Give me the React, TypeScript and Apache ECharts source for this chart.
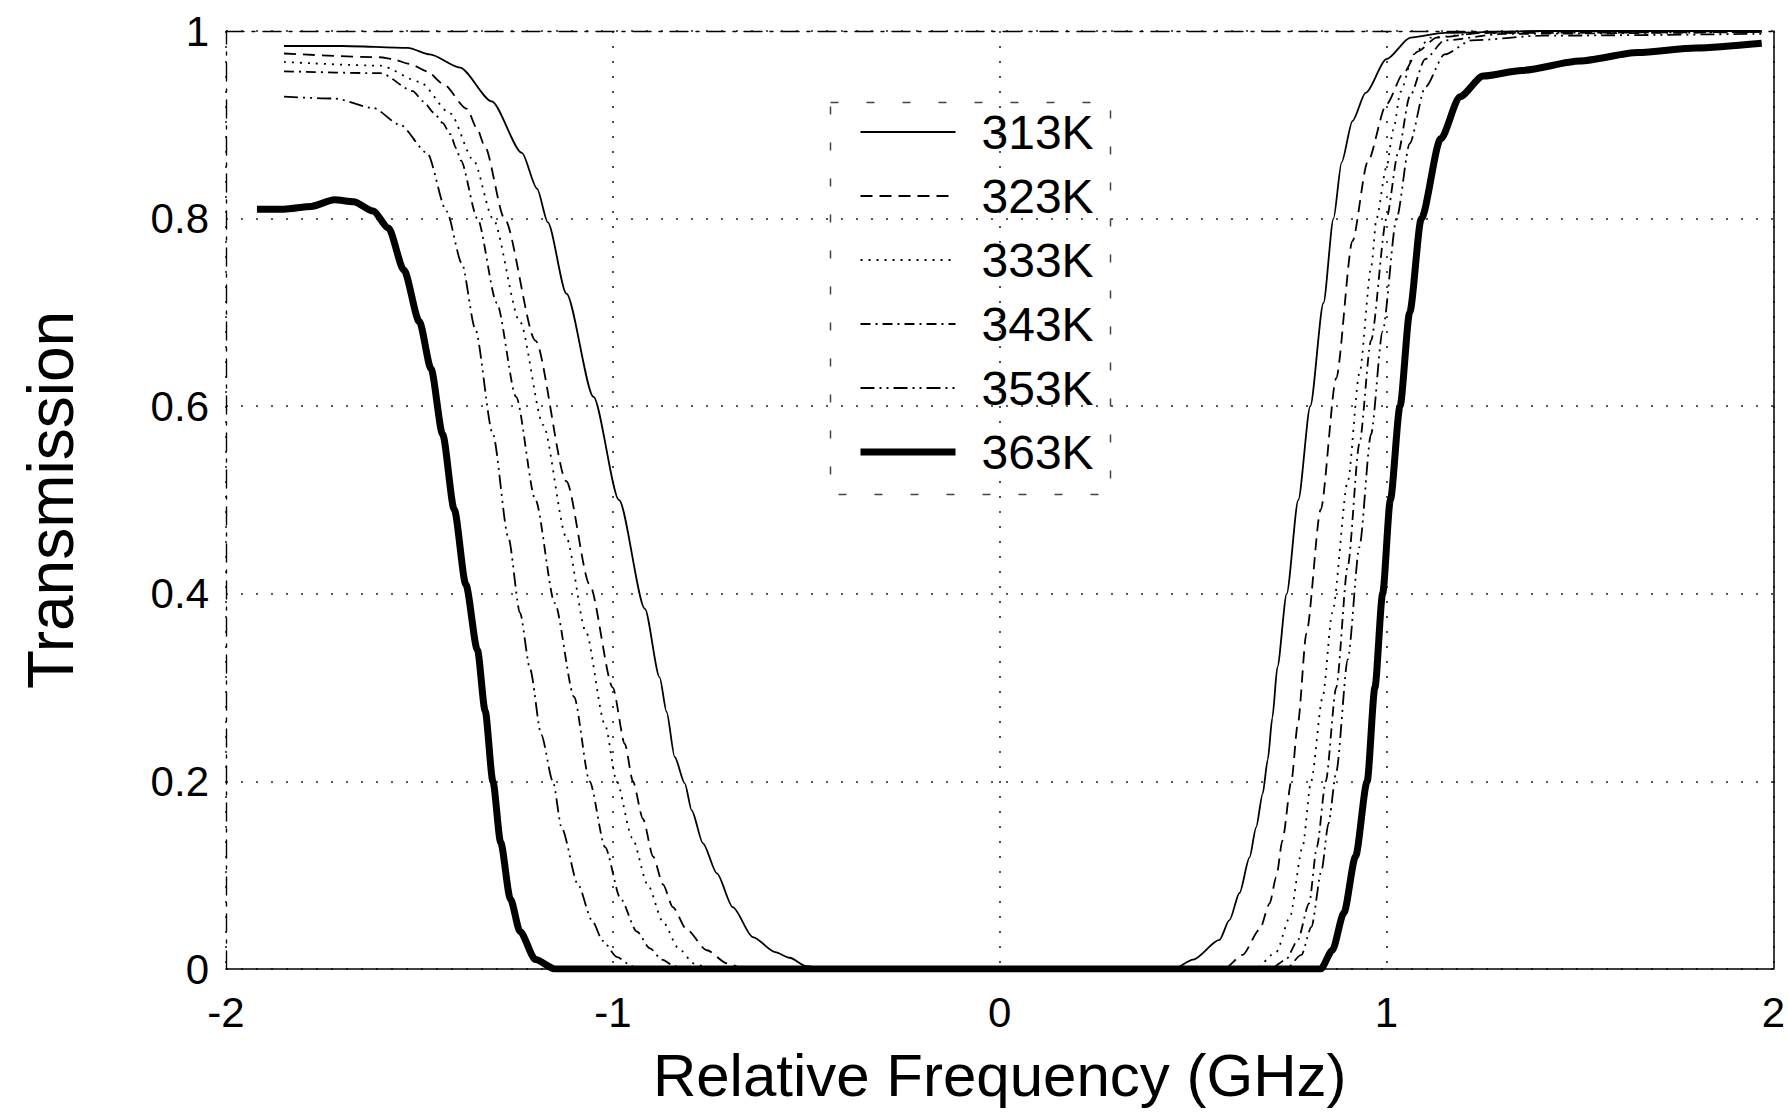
import React, { useEffect, useRef } from "react";
import * as echarts from "echarts";

type Pt = [number, number];

// Axis ranges and tick steps
const xRange: [number, number] = [-2, 2];
const yRange: [number, number] = [0, 1];
const xStep = 1;
const yStep = 0.2;

// Transmission vs. relative frequency (GHz), one list per cell temperature
const t313: Pt[] = [
  [-1.85, 0.984], [-1.7, 0.984], [-1.53, 0.982], [-1.473, 0.975], [-1.395, 0.961], [-1.313, 0.925],
  [-1.235, 0.87], [-1.196, 0.832], [-1.168, 0.796], [-1.12, 0.72], [-1.05, 0.61], [-0.984, 0.5],
  [-0.917, 0.384], [-0.879, 0.311], [-0.861, 0.274], [-0.84, 0.226], [-0.814, 0.198], [-0.796, 0.169],
  [-0.767, 0.134], [-0.731, 0.102], [-0.69, 0.066], [-0.638, 0.034], [-0.58, 0.018], [-0.543, 0.012],
  [-0.5, 0.003], [-0.45, 0], [0.45, 0], [0.5, 0.01], [0.568, 0.031], [0.594, 0.052], [0.62, 0.081],
  [0.646, 0.119], [0.663, 0.151], [0.68, 0.187], [0.693, 0.223], [0.705, 0.268], [0.718, 0.322],
  [0.742, 0.4], [0.772, 0.5], [0.803, 0.6], [0.837, 0.71], [0.863, 0.8], [0.884, 0.86], [0.912, 0.904],
  [0.946, 0.934], [1.0, 0.97], [1.062, 0.993], [1.15, 0.998], [1.4, 1.0], [1.97, 1.0],
];

const t323: Pt[] = [
  [-1.85, 0.976], [-1.6, 0.972], [-1.571, 0.97], [-1.525, 0.965], [-1.48, 0.957], [-1.44, 0.944],
  [-1.377, 0.917], [-1.351, 0.896], [-1.331, 0.877], [-1.28, 0.8], [-1.2, 0.67], [-1.12, 0.52],
  [-1.06, 0.41], [-1.0, 0.3], [-0.969, 0.24], [-0.948, 0.2], [-0.922, 0.16], [-0.896, 0.12],
  [-0.87, 0.09], [-0.845, 0.066], [-0.809, 0.042], [-0.757, 0.02], [-0.705, 0.006], [-0.66, 0],
  [0.58, 0], [0.628, 0.015], [0.672, 0.042], [0.698, 0.07], [0.715, 0.098], [0.731, 0.137],
  [0.754, 0.2], [0.771, 0.262], [0.793, 0.358], [0.83, 0.49], [0.87, 0.63], [0.912, 0.776],
  [0.951, 0.86], [1.0, 0.922], [1.044, 0.955], [1.08, 0.978], [1.13, 0.993], [1.25, 0.998], [1.97, 0.999],
];

const t333: Pt[] = [
  [-1.85, 0.967], [-1.6, 0.963], [-1.5, 0.946], [-1.42, 0.912], [-1.36, 0.862], [-1.31, 0.8],
  [-1.24, 0.69], [-1.18, 0.58], [-1.12, 0.46], [-1.07, 0.36], [-1.02, 0.26], [-0.99, 0.2],
  [-0.95, 0.14], [-0.91, 0.09], [-0.87, 0.05], [-0.83, 0.022], [-0.79, 0.006], [-0.75, 0],
  [0.66, 0], [0.715, 0.018], [0.75, 0.055], [0.783, 0.13], [0.805, 0.2], [0.835, 0.29], [0.86, 0.38],
  [0.9, 0.52], [0.93, 0.635], [0.961, 0.75], [0.974, 0.8], [1.0, 0.855], [1.018, 0.895], [1.036, 0.935],
  [1.07, 0.975], [1.114, 0.993], [1.25, 0.998], [1.97, 0.999],
];

const t343: Pt[] = [
  [-1.85, 0.957], [-1.6, 0.955], [-1.517, 0.936], [-1.49, 0.925], [-1.463, 0.913], [-1.44, 0.902],
  [-1.42, 0.89], [-1.405, 0.875], [-1.393, 0.862], [-1.35, 0.8], [-1.3, 0.71], [-1.25, 0.61],
  [-1.2, 0.5], [-1.15, 0.39], [-1.1, 0.29], [-1.06, 0.2], [-1.02, 0.13], [-0.98, 0.075],
  [-0.938, 0.04], [-0.904, 0.022], [-0.873, 0.01], [-0.84, 0.003], [-0.81, 0],
  [0.7, 0], [0.74, 0.01], [0.77, 0.03], [0.8, 0.07], [0.82, 0.13], [0.843, 0.2], [0.87, 0.3],
  [0.9, 0.43], [0.93, 0.56], [0.96, 0.67], [1.0, 0.8], [1.03, 0.87], [1.06, 0.93], [1.1, 0.97],
  [1.15, 0.99], [1.3, 0.997], [1.97, 0.999],
];

const t353: Pt[] = [
  [-1.85, 0.93], [-1.72, 0.928], [-1.62, 0.918], [-1.55, 0.9], [-1.48, 0.87], [-1.43, 0.808],
  [-1.39, 0.752], [-1.356, 0.683], [-1.31, 0.57], [-1.27, 0.46], [-1.24, 0.38], [-1.214, 0.32],
  [-1.185, 0.25], [-1.155, 0.2], [-1.132, 0.15], [-1.09, 0.09], [-1.054, 0.052], [-1.026, 0.03],
  [-0.99, 0.013], [-0.95, 0.003], [-0.92, 0],
  [0.74, 0], [0.78, 0.015], [0.806, 0.045], [0.832, 0.105], [0.85, 0.155], [0.87, 0.21], [0.9, 0.33],
  [0.93, 0.45], [0.96, 0.57], [0.99, 0.68], [1.026, 0.8], [1.06, 0.88], [1.1, 0.94], [1.15, 0.975],
  [1.22, 0.99], [1.4, 0.995], [1.97, 0.997],
];

const t363: Pt[] = [
  [-1.92, 0.81], [-1.85, 0.81], [-1.78, 0.813], [-1.72, 0.82], [-1.67, 0.818], [-1.62, 0.808],
  [-1.58, 0.79], [-1.54, 0.745], [-1.5, 0.69], [-1.47, 0.64], [-1.44, 0.57], [-1.41, 0.49],
  [-1.38, 0.41], [-1.35, 0.34], [-1.33, 0.275], [-1.31, 0.2], [-1.29, 0.135], [-1.265, 0.075],
  [-1.24, 0.04], [-1.2, 0.01], [-1.15, 0],
  [0.83, 0], [0.86, 0.02], [0.89, 0.06], [0.92, 0.12], [0.95, 0.2], [0.97, 0.3], [0.99, 0.4],
  [1.01, 0.5], [1.035, 0.6], [1.06, 0.7], [1.09, 0.8], [1.14, 0.885], [1.19, 0.93], [1.25, 0.952],
  [1.35, 0.958], [1.5, 0.968], [1.65, 0.977], [1.8, 0.982], [1.97, 0.987],
];

const temperatures = ["313K", "323K", "333K", "343K", "353K", "363K"];
const curves: Pt[][] = [t313, t323, t333, t343, t353, t363];

// Line appearance for each temperature
const strokeStyles: { width: number; type: any }[] = [
  { width: 1.8, type: "solid" },
  { width: 1.8, type: [12, 7] },
  { width: 1.8, type: [2, 6] },
  { width: 1.8, type: [10, 5, 2, 5] },
  { width: 1.8, type: [14, 5, 2, 5, 2, 5] },
  { width: 7, type: "solid" },
];

const FONT = '"Liberation Sans", Arial, Helvetica, sans-serif';
const INK = "#000";

export default function App() {
  const ref = useRef<HTMLDivElement>(null);

  useEffect(() => {
    if (!ref.current) return;
    const chart = echarts.init(ref.current, null, { renderer: "svg" });

    const gridDots = { show: true, lineStyle: { color: "#222", width: 1.6, type: [2, 13] } };

    chart.setOption({
      animation: false,
      backgroundColor: "#fff",
      grid: { left: 226, right: 13, top: 31, bottom: 149, containLabel: false },
      xAxis: [
        {
          type: "value",
          min: xRange[0],
          max: xRange[1],
          interval: xStep,
          position: "bottom",
          axisLine: { show: true, onZero: false, lineStyle: { color: INK, width: 1.5 } },
          axisTick: { show: false },
          axisLabel: { fontSize: 42, color: INK, fontFamily: FONT, margin: 22 },
          splitLine: gridDots,
          name: "Relative Frequency (GHz)",
          nameLocation: "middle",
          nameGap: 76,
          nameTextStyle: { fontSize: 60, color: INK, fontFamily: FONT },
        },
        {
          type: "value",
          min: xRange[0],
          max: xRange[1],
          interval: xStep,
          position: "top",
          axisLine: { show: true, onZero: false, lineStyle: { color: INK, width: 1.4, type: [18, 8, 3, 8] } },
          axisTick: { show: false },
          axisLabel: { show: false },
          splitLine: { show: false },
        },
      ],
      yAxis: [
        {
          type: "value",
          min: yRange[0],
          max: yRange[1],
          interval: yStep,
          position: "left",
          axisLine: { show: true, onZero: false, lineStyle: { color: INK, width: 1.4, type: [18, 8, 3, 8] } },
          axisTick: { show: false },
          axisLabel: { fontSize: 42, color: INK, fontFamily: FONT, margin: 17 },
          splitLine: gridDots,
          name: "Transmission",
          nameLocation: "middle",
          nameGap: 143,
          nameTextStyle: { fontSize: 64, color: INK, fontFamily: FONT },
        },
        {
          type: "value",
          min: yRange[0],
          max: yRange[1],
          interval: yStep,
          position: "right",
          axisLine: { show: true, onZero: false, lineStyle: { color: INK, width: 1.5 } },
          axisTick: { show: false },
          axisLabel: { show: false },
          splitLine: { show: false },
        },
      ],
      legend: {
        orient: "vertical",
        left: 857,
        top: 108,
        padding: 0,
        itemWidth: 95,
        itemHeight: 14,
        itemGap: 16,
        selectedMode: false,
        data: temperatures,
        itemStyle: { opacity: 0 },
        lineStyle: { width: "inherit" },
        textStyle: { fontSize: 48, lineHeight: 46, color: INK, fontFamily: FONT, padding: [0, 0, 0, 21] },
      },
      graphic: [
        {
          type: "rect",
          left: 828,
          top: 100,
          shape: { width: 280, height: 392 },
          style: { fill: "none", stroke: "#444", lineWidth: 1.5, lineDash: [8, 28] },
          silent: true,
        },
      ],
      series: curves.map((data, i) => ({
        type: "line",
        name: temperatures[i],
        data,
        xAxisIndex: 0,
        yAxisIndex: 0,
        symbol: "none",
        smooth: 0.25,
        smoothMonotone: "x",
        z: i === 5 ? 5 : 3,
        lineStyle: { color: INK, width: strokeStyles[i].width, type: strokeStyles[i].type },
        itemStyle: { color: INK },
      })),
    });

    return () => chart.dispose();
  }, []);

  return (
    <div
      ref={ref}
      style={{ position: "fixed", left: 0, top: 0, width: 1788, height: 1118, background: "#fff" }}
    />
  );
}
